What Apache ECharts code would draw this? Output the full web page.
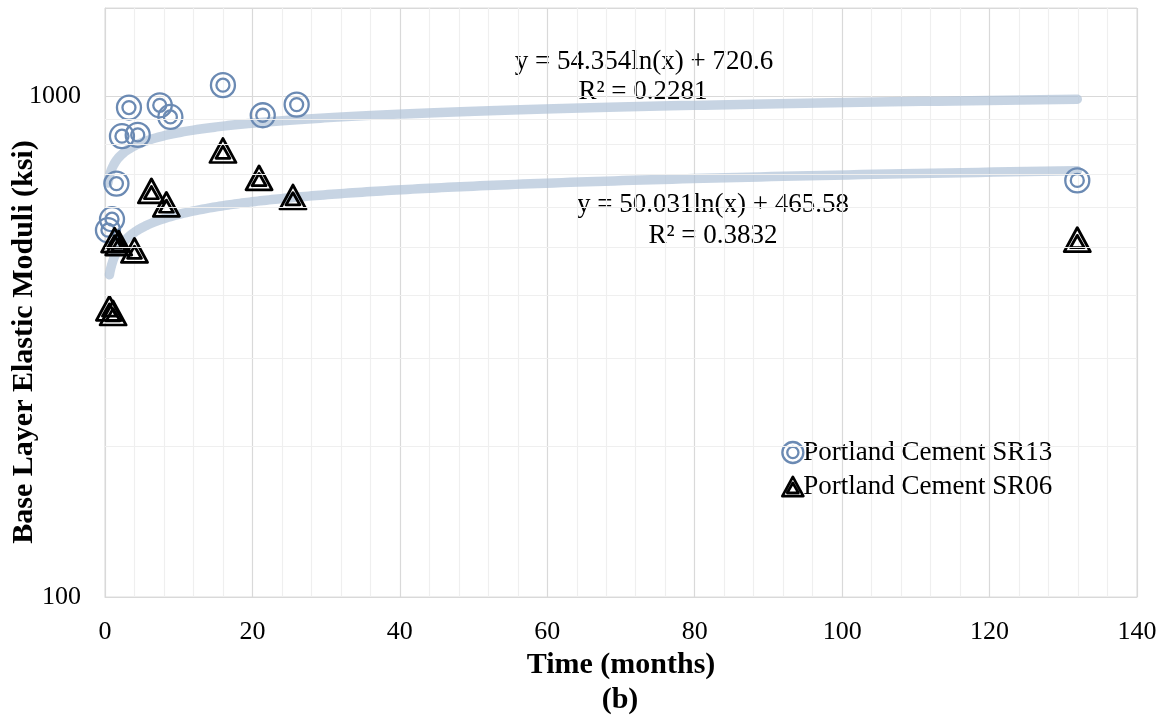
<!DOCTYPE html>
<html>
<head>
<meta charset="utf-8">
<script src="https://cdn.jsdelivr.net/npm/echarts@6/dist/echarts.min.js"></script>
<style>
  html, body { margin: 0; padding: 0; background: #fff; }
  #chart { width: 1162px; height: 727px; }
</style>
</head>
<body>
<div id="chart"></div>
<script>
// data
var sr13X = [0.4, 0.95, 1.55, 2.3, 3.25, 4.44, 7.43, 8.87, 16.0, 21.4, 26.0, 131.9];
var sr13Y = [540, 568, 669, 832, 949, 837, 959, 909, 1052, 916, 962, 679];
var sr06X = [0.6, 1.1, 1.3, 1.86, 4.0, 6.3, 8.33, 16.0, 20.9, 25.5, 131.9];
var sr06Y = [377, 369, 516, 509, 492, 647, 608, 779, 687, 629, 517];
// trendline coefficients as printed on the chart: y = a ln(x) + b
var trend13 = [54.354, 720.6];
var trend06 = [50.031, 465.58];
var yMinorTicks = [200, 300, 400, 500, 600, 700, 800, 900];

var FONT = '"Liberation Serif", "Times New Roman", serif';
var BLUE = '#6b8ab3';

function pairs(xs, ys) {
  return xs.map(function (x, i) { return [x, ys[i]]; });
}
// trendline spans the x range of its data
function trend(coef, xs) {
  var lo = Math.min.apply(null, xs), hi = Math.max.apply(null, xs);
  var pts = [];
  var n = 300;
  for (var i = 0; i <= n; i++) {
    var x = lo * Math.pow(hi / lo, i / n);
    pts.push([x, coef[0] * Math.log(x) + coef[1]]);
  }
  return pts;
}
function circ(cx, cy, r) {
  var k = 0.5523 * r;
  return 'M' + (cx - r) + ',' + cy +
    'C' + (cx - r) + ',' + (cy - k) + ' ' + (cx - k) + ',' + (cy - r) + ' ' + cx + ',' + (cy - r) +
    'C' + (cx + k) + ',' + (cy - r) + ' ' + (cx + r) + ',' + (cy - k) + ' ' + (cx + r) + ',' + cy +
    'C' + (cx + r) + ',' + (cy + k) + ' ' + (cx + k) + ',' + (cy + r) + ' ' + cx + ',' + (cy + r) +
    'C' + (cx - k) + ',' + (cy + r) + ' ' + (cx - r) + ',' + (cy + k) + ' ' + (cx - r) + ',' + cy + 'Z';
}

var ringPath = 'path://' + circ(12, 12, 12) + ' ' + circ(12, 12, 6.4);
var triPath = 'path://M12,0L24,22L0,22Z M12,7L18.4,18.2L5.6,18.2Z';

var chart = echarts.init(document.getElementById('chart'), null, { renderer: 'canvas' });

// SR13 marker drawn as two rings so both sizes are exact
function ringSeries(name, size, z) {
  return {
    name: name,
    type: 'scatter',
    data: pairs(sr13X, sr13Y),
    symbol: 'circle',
    symbolSize: size,
    itemStyle: { color: 'rgba(0,0,0,0)', borderColor: BLUE, borderWidth: 2.3, opacity: 1 },
    z: z
  };
}

var option = {
  animation: false,
  backgroundColor: '#fff',
  textStyle: { fontFamily: FONT },
  grid: {
    left: 105, right: 25, top: 8, bottom: 130,
    outerBoundsMode: 'none',
    containLabel: false,
    show: true, borderColor: '#dcdcdc', borderWidth: 1
  },
  legend: {
    orient: 'vertical',
    left: 781, top: 439,
    padding: 0,
    itemWidth: 21, itemHeight: 21, itemGap: 7,
    textStyle: { fontFamily: FONT, fontSize: 27, color: '#000', padding: [0, 0, 0, -5] },
    data: [
      { name: 'Portland Cement SR13', icon: ringPath,
        itemStyle: { color: 'rgba(0,0,0,0)', borderColor: BLUE, borderWidth: 2.3 } },
      { name: 'Portland Cement SR06', icon: triPath,
        itemStyle: { color: 'rgba(0,0,0,0)', borderColor: '#000', borderWidth: 2.7 } }
    ]
  },
  xAxis: {
    type: 'value',
    min: 0, max: 140, interval: 20,
    name: 'Time (months)',
    nameLocation: 'middle',
    nameGap: 51,
    nameTextStyle: { fontFamily: FONT, fontSize: 30, fontWeight: 'bold', color: '#000' },
    axisLine: { show: true, lineStyle: { color: '#d9d9d9' } },
    axisTick: { show: false },
    axisLabel: { margin: 22, fontFamily: FONT, fontSize: 26, color: '#000' },
    splitLine: { show: true, lineStyle: { color: '#d9d9d9', width: 1.2 } },
    minorTick: { show: false, splitNumber: 5 },
    minorSplitLine: { show: true, lineStyle: { color: '#efefef', width: 1.2 } }
  },
  yAxis: {
    type: 'log',
    logBase: 10,
    min: 100, max: 1500,
    axisLine: { show: true, lineStyle: { color: '#d9d9d9' } },
    axisTick: { show: false },
    axisLabel: {
      margin: 24, fontFamily: FONT, fontSize: 26, color: '#000',
      formatter: function (v) { return (v === 100 || v === 1000) ? String(v) : ''; }
    },
    splitLine: { show: true, lineStyle: { color: '#d9d9d9', width: 1.2 } }
  },
  series: [
    {
      // minor horizontal gridlines
      type: 'line',
      data: [],
      silent: true,
      markLine: {
        silent: true,
        symbol: 'none',
        label: { show: false },
        lineStyle: { color: '#efefef', width: 1.2, type: 'solid' },
        data: yMinorTicks.map(function (v) { return { yAxis: v }; })
      },
      z: 0
    },
    {
      name: 'trend13',
      type: 'line',
      data: trend(trend13, sr13X),
      showSymbol: false,
      silent: true,
      lineStyle: { color: 'rgba(172,191,213,0.68)', width: 9.5, cap: 'round', join: 'round' },
      z: 1
    },
    {
      name: 'trend06',
      type: 'line',
      data: trend(trend06, sr06X),
      showSymbol: false,
      silent: true,
      lineStyle: { color: 'rgba(172,191,213,0.68)', width: 9.5, cap: 'round', join: 'round' },
      z: 1
    },
    ringSeries('Portland Cement SR13', 24, 3),
    ringSeries('sr13-inner', 13, 3),
    {
      name: 'Portland Cement SR06',
      type: 'scatter',
      data: pairs(sr06X, sr06Y),
      symbol: triPath,
      symbolSize: [26, 24],
      itemStyle: { color: 'rgba(0,0,0,0)', borderColor: '#000', borderWidth: 2.8, borderJoin: 'round', opacity: 1 },
      z: 4
    }
  ],
  graphic: [
    { type: 'text', x: 24, y: 342, rotation: Math.PI / 2, style: {
        text: 'Base Layer Elastic Moduli (ksi)', font: 'bold 30px ' + FONT, fill: '#000',
        align: 'center', verticalAlign: 'middle' } },
    { type: 'text', x: 644, y: 62, style: {
        text: 'y = 54.354ln(x) + 720.6', font: '27px ' + FONT, fill: '#000',
        align: 'center', verticalAlign: 'middle' } },
    { type: 'text', x: 643, y: 92, style: {
        text: 'R² = 0.2281', font: '27px ' + FONT, fill: '#000',
        align: 'center', verticalAlign: 'middle' } },
    { type: 'text', x: 713, y: 205, style: {
        text: 'y = 50.031ln(x) + 465.58', font: '27px ' + FONT, fill: '#000',
        align: 'center', verticalAlign: 'middle' } },
    { type: 'text', x: 713, y: 236, style: {
        text: 'R² = 0.3832', font: '27px ' + FONT, fill: '#000',
        align: 'center', verticalAlign: 'middle' } },
    { type: 'text', x: 620, y: 700, style: {
        text: '(b)', font: 'bold 30px ' + FONT, fill: '#000',
        align: 'center', verticalAlign: 'middle' } }
  ]
};

chart.setOption(option);
</script>
</body>
</html>
